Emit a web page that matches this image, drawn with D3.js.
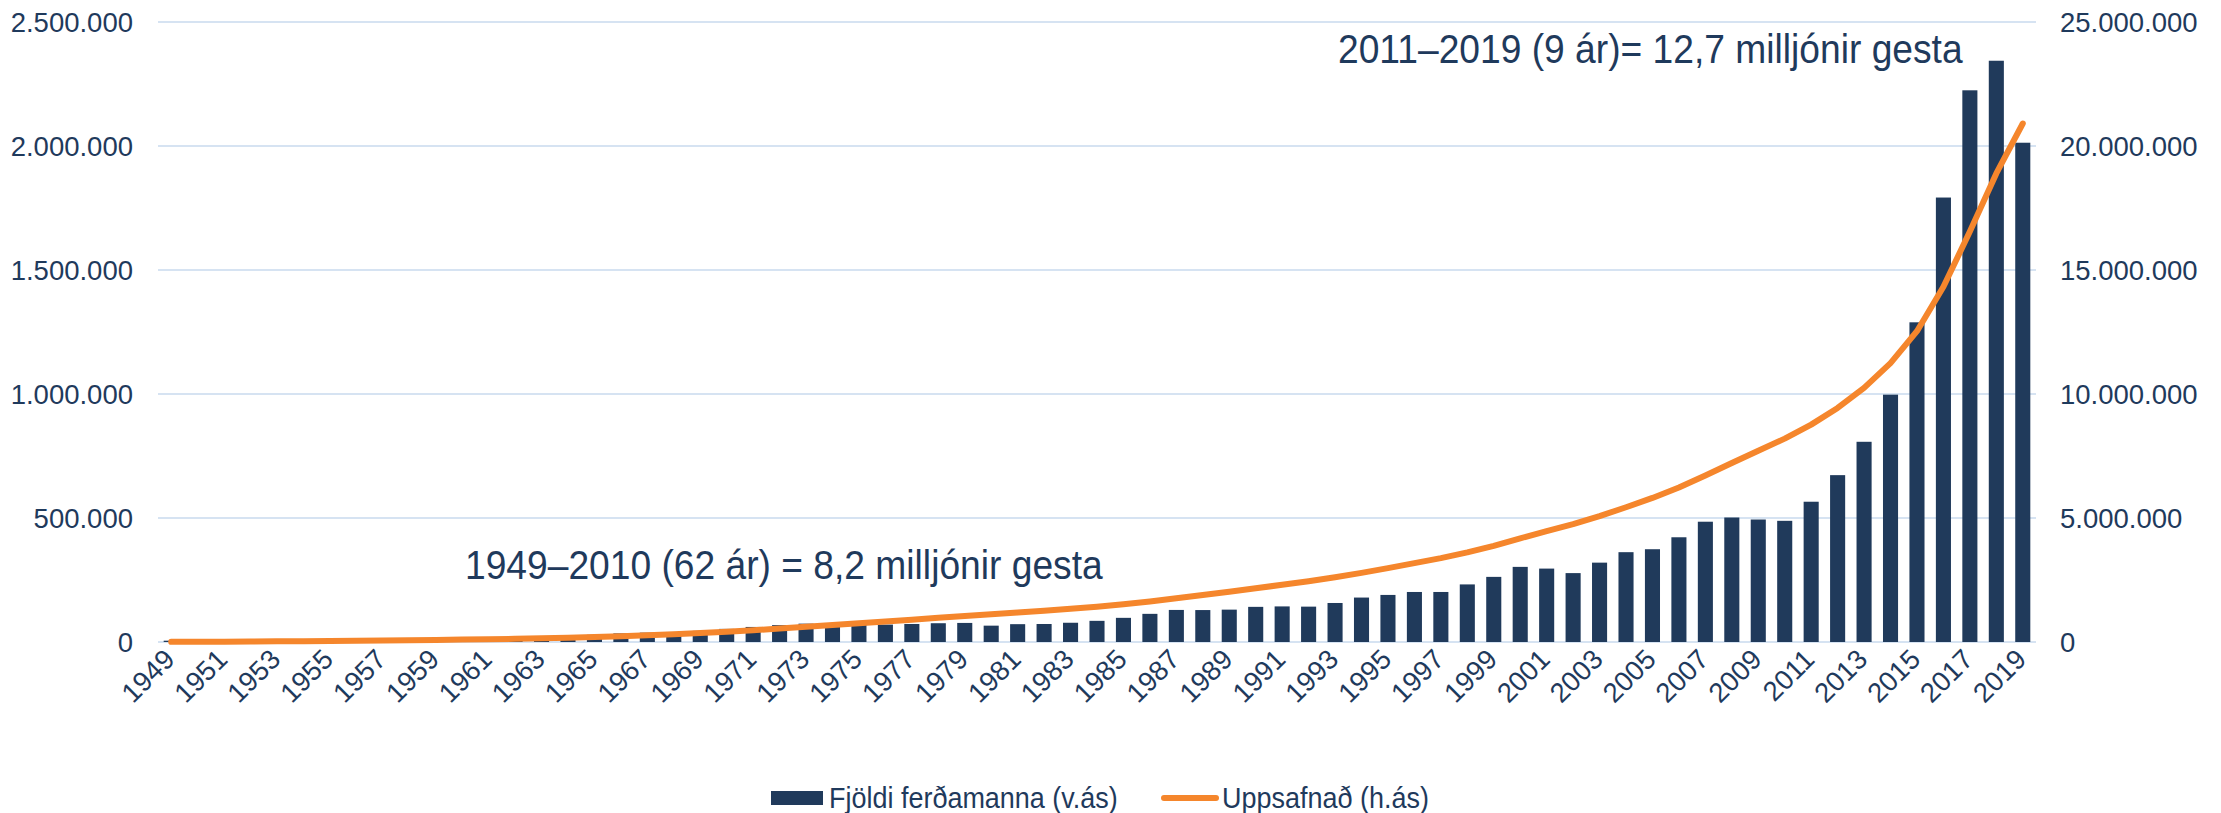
<!DOCTYPE html>
<html>
<head>
<meta charset="utf-8">
<script src="https://cdn.jsdelivr.net/npm/d3@7"></script>
<style>
  body { margin: 0; background: #fff; }
  svg text { font-family: "Liberation Sans", Arial, sans-serif; fill: #1f3a5c; }
</style>
</head>
<body>
<div id="chart"></div>
<script>
// ár
var years = d3.range(1949, 2020).map(String);

// fjöldi ferðamanna (v.ás)
var visitors = [
  5300, 4400, 4800, 5300, 6600, 7900, 8300, 9000, 9900, 10700,
  12800, 12800, 14000, 17200, 20800, 23000, 28900, 34700, 37700, 40400,
  44900, 52900, 60700, 68000, 74000, 68500, 71700, 70200, 72700, 75700,
  76900, 65900, 71900, 72600, 77600, 85300, 97400, 113500, 129300, 128800,
  130500, 141700, 143500, 142600, 157300, 179200, 189800, 201700, 201700, 232200,
  262600, 302900, 296000, 277800, 320000, 362200, 374100, 422300, 485000, 502000,
  493900, 488600, 565600, 672800, 807300, 997300, 1289100, 1792200, 2224600, 2343800,
  2013200
];

// uppsafnað (h.ás)
var cumulative = [
  5300, 9700, 14500, 19800, 26400, 34300, 42600, 51600, 61500, 72200,
  85000, 97800, 111800, 129000, 149800, 172800, 201700, 236400, 274100, 314500,
  359400, 412300, 473000, 541000, 615000, 683500, 755200, 825400, 898100, 973800,
  1050700, 1116600, 1188500, 1261100, 1338700, 1424000, 1521400, 1634900, 1764200, 1893000,
  2023500, 2165200, 2308700, 2451300, 2608600, 2787800, 2977600, 3179300, 3381000, 3613200,
  3875800, 4178700, 4474700, 4752500, 5072500, 5434700, 5808800, 6231100, 6716100, 7218100,
  7712000, 8200600, 8766200, 9439000, 10246300, 11243600, 12532700, 14324900, 16549500, 18893300,
  20906500
];

var leftTicks = [0, 500000, 1000000, 1500000, 2000000, 2500000];
var rightTicks = [0, 5000000, 10000000, 15000000, 20000000, 25000000];

var annotations = [
  "2011–2019 (9 ár)= 12,7 milljónir gesta",
  "1949–2010 (62 ár) = 8,2 milljónir gesta"
];
var legendNames = ["Fjöldi ferðamanna (v.ás)", "Uppsafnað (h.ás)"];

(function() {
  var width = 2221, height = 813;
  var pLeft = 158, pRight = 2036, pTop = 22, pBottom = 642;
  var navy = "#203a5b", orange = "#f5862c", grid = "#d6e3f2";

  var fmt = function(v) { return d3.format(",")(v).replace(/,/g, "."); };

  var svg = d3.select('#chart')
      .append('svg')
      .attr('width', width)
      .attr('height', height);

  var x = d3.scaleBand()
      .domain(years)
      .range([pLeft, pRight])
      .paddingInner(0.43)
      .paddingOuter(0.215);

  var yL = d3.scaleLinear().domain([0, 2500000]).range([pBottom, pTop]);
  var yR = d3.scaleLinear().domain([0, 25000000]).range([pBottom, pTop]);

  // gridlines
  svg.append('g').selectAll('line')
      .data(leftTicks)
      .enter().append('line')
      .attr('x1', pLeft).attr('x2', pRight)
      .attr('y1', function(d) { return yL(d); })
      .attr('y2', function(d) { return yL(d); })
      .attr('stroke', grid)
      .attr('stroke-width', 2);

  // left axis
  var axL = svg.append('g')
      .attr('transform', 'translate(' + (pLeft - 25) + ',0)')
      .call(d3.axisLeft(yL).tickValues(leftTicks).tickSize(0).tickFormat(fmt));
  axL.select('.domain').remove();
  axL.selectAll('text').attr('font-size', 27.5).attr('dy', '0.35em').attr('x', 0);

  // right axis
  var axR = svg.append('g')
      .attr('transform', 'translate(' + (pRight + 24) + ',0)')
      .call(d3.axisRight(yR).tickValues(rightTicks).tickSize(0).tickFormat(fmt));
  axR.select('.domain').remove();
  axR.selectAll('text').attr('font-size', 27.5).attr('dy', '0.35em').attr('x', 0);

  // bars
  svg.append('g').selectAll('rect')
      .data(visitors)
      .enter().append('rect')
      .attr('x', function(d, i) { return x(years[i]); })
      .attr('width', x.bandwidth())
      .attr('y', function(d) { return yL(d); })
      .attr('height', function(d) { return pBottom - yL(d); })
      .style('fill', navy);

  // cumulative line
  var line = d3.line()
      .x(function(d, i) { return x(years[i]) + x.bandwidth() / 2; })
      .y(function(d) { return yR(d); });

  svg.append('path')
      .datum(cumulative)
      .attr('d', line)
      .attr('fill', 'none')
      .attr('stroke', orange)
      .attr('stroke-width', 6)
      .attr('stroke-linejoin', 'round')
      .attr('stroke-linecap', 'round');

  // x axis, every other year
  var axX = svg.append('g')
      .attr('transform', 'translate(0,' + pBottom + ')')
      .call(d3.axisBottom(x)
        .tickValues(years.filter(function(d, i) { return i % 2 == 0; }))
        .tickSize(0));
  axX.select('.domain').remove();
  axX.selectAll('text')
      .attr('font-size', 27.5)
      .attr('text-anchor', 'end')
      .attr('x', 0).attr('y', 0).attr('dy', 0)
      .attr('transform', 'translate(5,19) rotate(-45)');

  // annotations
  svg.append('text')
      .attr('transform', 'translate(1338,63) scale(0.93,1)')
      .attr('font-size', 40)
      .text(annotations[0]);
  svg.append('text')
      .attr('transform', 'translate(465,579) scale(0.93,1)')
      .attr('font-size', 40)
      .text(annotations[1]);

  // legend
  var lg = svg.append('g');
  lg.append('rect')
      .attr('x', 771).attr('y', 791).attr('width', 52).attr('height', 14)
      .style('fill', navy);
  lg.append('text')
      .attr('transform', 'translate(829,808) scale(0.93,1)')
      .attr('font-size', 29)
      .text(legendNames[0]);
  lg.append('line')
      .attr('x1', 1164).attr('x2', 1216).attr('y1', 798).attr('y2', 798)
      .attr('stroke', orange).attr('stroke-width', 6).attr('stroke-linecap', 'round');
  lg.append('text')
      .attr('transform', 'translate(1222,808) scale(0.93,1)')
      .attr('font-size', 29)
      .text(legendNames[1]);
})();
</script>
</body>
</html>
